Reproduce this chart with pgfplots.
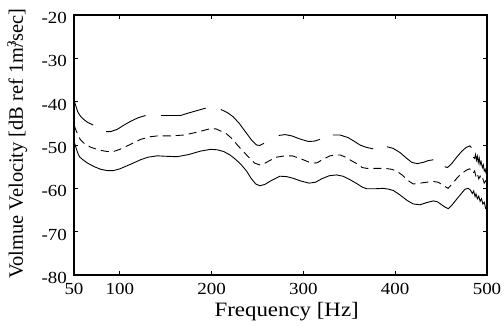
\documentclass[border=0pt]{standalone}
\usepackage{fontspec}
\setmainfont{Liberation Serif}
\newfontfamily\widefont{Liberation Serif}[FakeStretch=1.12]
\usepackage{pgfplots}
\pgfplotsset{compat=1.18}
\usepackage{pgfplotstable}

\pgfplotstableread{
x y
50.3 -39.8
52 -41
54 -42.3
56.5 -43.2
60 -44
65 -44.8
71 -45.4
nan nan
85 -46.9
90 -46.9
97 -46.4
104.5 -45.4
112 -44.5
120 -43.7
128 -43.2
nan nan
145 -43.2
155 -43.2
166 -43.2
175 -42.6
185 -42
193.5 -41.5
nan nan
210 -41.8
217 -42.5
223.5 -43.5
230 -45
238 -47.3
244 -49
249 -50
252.6 -50.1
257 -49.6
nan nan
273 -47.8
280 -47.6
287.4 -47.9
296 -48.6
305.5 -49.2
312 -49.1
318 -48.7
nan nan
332 -47.7
340 -47.7
348.7 -48.3
355 -49.1
361.6 -50
368 -50.5
376 -50.9
nan nan
391 -50.4
398 -50.8
405.6 -51.8
412 -53
418 -54
424 -54.3
430.5 -54
436 -53.6
441.6 -53.4
nan nan
454 -55
457 -55.2
461.5 -54.3
467 -52.8
472.3 -51.5
477 -50.6
481.4 -50.2
483 -50.6
nan nan
485 -52.8
486.5 -53.1
487.5 -52.2
488.5 -53.5
489.5 -52.6
490.5 -54
491.5 -53
492.5 -54.5
493.5 -53.8
495 -55.2
496 -54.6
497 -56
498 -55.6
499 -56.5
500 -56.3
}\upperdata

\pgfplotstableread{
x y
50.3 -45.5
52 -46.5
54 -47.5
57 -48.8
61 -49.6
68 -50.5
78 -51.2
86 -51.5
93 -51.5
100 -51
110 -50
122.6 -48.7
133 -48.1
140.7 -47.9
155 -47.9
170 -47.7
185 -47
199 -46.2
205 -46.3
210 -46.8
216 -47.4
222 -48.5
228 -50
234.4 -51.5
241.7 -53.1
247 -54.2
252.6 -54.6
258 -54.2
264 -53.5
271 -52.8
280 -52.5
287.8 -52.5
295 -53
302 -53.6
309 -54.2
315 -54.1
322 -53.2
329 -52.5
335 -52.3
340 -52.3
346 -52.8
352 -53.6
358 -54.3
364 -55.2
369 -55.4
380 -55.4
389 -55.4
396 -55.6
401.5 -56
408 -57
414 -58.2
419.6 -59
427 -58.8
434 -58.6
441 -58.4
447 -58.6
452 -59.3
457.6 -60
462 -59
467 -57.7
472 -56.6
477.7 -55.8
481 -55.5
483 -55.8
485 -56.5
486.5 -56
488 -57.3
489.5 -56.6
491 -57.8
492.5 -57.2
494 -58.2
495.5 -57.8
497 -58.8
498.5 -58.3
500 -59
}\middata

\pgfplotstableread{
x y
50.3 -49.3
52 -50.5
54 -51.8
56 -52.7
59 -53.3
65 -54.2
72 -55
79 -55.6
86 -55.9
93 -55.9
100 -55.5
111 -54.5
122.6 -53.4
131 -52.8
140.7 -52.5
150 -52.6
162.5 -52.7
175 -52.2
188 -51.4
199 -51
206 -51.1
213 -51.5
220 -52.3
226 -53.3
231.6 -54.4
238 -56
243 -57.7
248 -59
252.6 -59.4
258 -59.1
265 -58.2
274.5 -57.2
282 -57.3
289 -57.7
297 -58.3
306 -58.8
313 -58.6
320 -57.8
328 -57.1
336 -56.9
343 -57.2
350.7 -58
358 -58.9
364 -59.7
369 -60.1
378 -60.1
387 -60
393 -60.2
398 -60.5
405 -61.5
413 -62.8
419.6 -63.6
427 -63.8
434 -63.3
441.5 -62.9
446 -63.1
450.6 -63.8
454 -64.3
457.7 -64.7
462 -63.8
467 -62.5
472 -61.2
476 -60.2
479.5 -60
482 -60.4
484 -61.2
485.5 -60.6
487 -61.9
488 -61.3
489.5 -62.4
491 -61.8
492.5 -63
494 -62.4
495.5 -63.6
497 -63.2
498.5 -64.6
500 -64.2
}\lowdata

\begin{document}
\begin{tikzpicture}
\begin{axis}[
  scale only axis,
  width=413bp, height=260bp,
  xmin=50, xmax=500, ymin=-80, ymax=-20,
  xtick={50,100,200,300,400,500},
  xticklabels={50,100,200,300,400,500},
  ytick={-80,-70,-60,-50,-40,-30,-20},
  yticklabels={-80,-70,-60,-50,-40,-30,-20},
  tick align=inside,
  major tick length=4bp,
  axis line style={line width=1.1bp},
  every tick/.style={black, line width=0.8bp},
  ticklabel style={font=\widefont\fontsize{17}{18}\selectfont},
  yticklabel style={inner sep=0pt, xshift=-7bp, yshift=-3bp},
  xticklabel style={inner sep=0pt, yshift=-8bp},
  xlabel={Frequency [Hz]},
  xlabel style={font=\widefont\fontsize{20.5}{22}\selectfont, at={(axis description cs:0.515,-0.158)}, anchor=base},
  ylabel={Volmue Velocity [dB ref 1m\rlap{\raisebox{0.75ex}{\fontsize{13}{14}\selectfont 3}}/sec]},
  ylabel style={font=\fontsize{20.5}{22}\selectfont, at={(axis description cs:-0.1235,0.505)}, anchor=base, rotate=0},
  unbounded coords=jump,
  clip=false,
]
\addplot[black, line width=0.9bp] table[x=x,y=y] {\upperdata};
\addplot[black, line width=0.9bp, dash pattern=on 8bp off 5bp] table[x=x,y=y] {\middata};
\addplot[black, line width=0.9bp] table[x=x,y=y] {\lowdata};
\end{axis}
\pgfresetboundingbox
\useasboundingbox (-74bp,-51bp) rectangle (430bp,275bp);
\end{tikzpicture}
\end{document}
